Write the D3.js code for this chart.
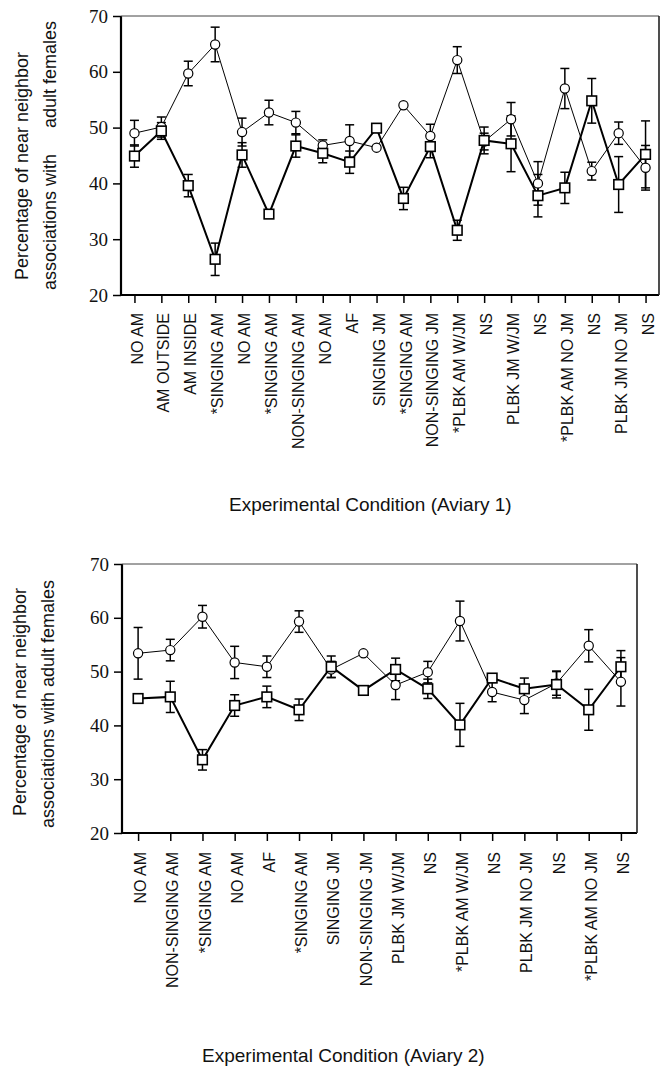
<!DOCTYPE html>
<meta charset="utf-8">
<html>
<style>
body { margin: 0; background: #fff; }
svg { display: block; }
.tick line { stroke: #000; stroke-width: 1.5px; }
.xcat text { font-family: "Liberation Sans", Arial, sans-serif; font-size: 16px; fill: #111; }
.lab { font-family: "Liberation Sans", Arial, sans-serif; font-size: 18px; fill: #111; }
.title { font-family: "Liberation Sans", Arial, sans-serif; font-size: 19px; fill: #111; }
</style>
<svg width="664" height="1067"></svg>
<script src="https://cdn.jsdelivr.net/npm/d3@7"></script>
<script>
// Aviary 1 conditions and values (circles = thin line, squares = thick line)
var cats1 = ["NO AM", "AM OUTSIDE", "AM INSIDE", "*SINGING AM", "NO AM", "*SINGING AM",
  "NON-SINGING AM", "NO AM", "AF", "SINGING JM", "*SINGING AM", "NON-SINGING JM",
  "*PLBK AM W/JM", "NS", "PLBK JM W/JM", "NS", "*PLBK AM NO JM", "NS", "PLBK JM NO JM", "NS"];
var circ1 = [49.0, 50.1, 59.7, 64.9, 49.2, 52.7, 50.9, 46.8, 47.6, 46.4, 54.0, 48.5, 62.1, 47.5, 51.5, 40.0, 57.0, 42.2, 49.0, 42.8];
var circ1Err = [2.3, 1.8, 2.2, 3.1, 2.5, 2.2, 2.0, 1.0, 2.9, 0, 0, 2.1, 2.4, 1.5, 3.0, 3.9, 3.6, 1.6, 2.0, 4.0];
var sq1 = [44.9, 49.4, 39.6, 26.4, 45.1, 34.5, 46.7, 45.4, 43.8, 49.9, 37.3, 46.6, 31.6, 47.7, 47.1, 37.8, 39.2, 54.8, 39.8, 45.2];
var sq1Err = [2.0, 1.5, 2.0, 2.9, 2.2, 0, 2.0, 1.7, 2.0, 0, 2.0, 2.0, 1.8, 2.4, 5.0, 3.8, 2.8, 4.0, 5.0, 6.0];

// Aviary 2
var cats2 = ["NO AM", "NON-SINGING AM", "*SINGING AM", "NO AM", "AF", "*SINGING AM", "SINGING JM",
  "NON-SINGING JM", "PLBK JM W/JM", "NS", "*PLBK AM W/JM", "NS", "PLBK JM NO JM", "NS",
  "*PLBK AM NO JM", "NS"];
var circ2 = [53.4, 54.0, 60.2, 51.7, 50.9, 59.3, 50.4, 53.4, 47.5, 49.9, 59.4, 46.2, 44.7, 47.8, 54.8, 48.1];
var circ2Err = [4.8, 2.0, 2.1, 3.0, 2.0, 2.0, 1.5, 0, 2.7, 2.0, 3.7, 1.8, 2.5, 2.2, 3.0, 4.5];
var sq2 = [45.0, 45.3, 33.6, 43.7, 45.3, 42.9, 50.9, 46.5, 50.4, 46.8, 40.1, 48.8, 46.8, 47.6, 42.9, 50.9];
var sq2Err = [0, 2.9, 1.9, 2.0, 2.0, 2.0, 2.0, 0, 2.1, 1.8, 4.0, 0, 2.0, 2.5, 3.8, 3.0];

var yTicks = [20, 30, 40, 50, 60, 70];

var svg = d3.select("svg");
svg.append("rect").attr("width", 664).attr("height", 1067).attr("fill", "#fff");

function panel(p) {
  var g = svg.append("g");
  var x = d3.scalePoint().domain(d3.range(p.cats.length)).range([p.left, p.right]).padding(0.5);
  var y = d3.scaleLinear().domain([20, 70]).range([p.bottom, p.top]);

  // y axis numbers (serif, like the original)
  g.append("g")
      .attr("transform", "translate(" + p.left + ",0)")
      .call(d3.axisLeft(y).tickValues(yTicks).tickSize(8).tickPadding(5))
    .call(function(a) { a.select(".domain").remove(); })
    .selectAll("text")
      .attr("font-family", "Liberation Serif")
      .attr("font-size", 19)
      .attr("fill", "#111");

  // x axis with rotated condition names
  g.append("g")
      .attr("class", "xcat")
      .attr("transform", "translate(0," + p.bottom + ")")
      .call(d3.axisBottom(x).tickSize(8).tickFormat(function(i) { return p.cats[i]; }))
    .call(function(a) { a.select(".domain").remove(); })
    .selectAll("text")
      .attr("font-family", null).attr("font-size", null)
      .attr("transform", "rotate(-90)")
      .attr("x", -p.labGap)
      .attr("y", 2)
      .attr("dy", "0.35em")
      .style("text-anchor", "end");

  // plot frame: heavy left/bottom, lighter top/right
  g.append("line").attr("x1", p.left).attr("x2", p.left).attr("y1", p.top).attr("y2", p.bottom + 1)
      .attr("stroke", "#000").attr("stroke-width", 2.2);
  g.append("line").attr("x1", p.left - 1).attr("x2", p.right).attr("y1", p.bottom).attr("y2", p.bottom)
      .attr("stroke", "#000").attr("stroke-width", 2.2);
  g.append("line").attr("x1", p.left).attr("x2", p.right).attr("y1", p.top).attr("y2", p.top)
      .attr("stroke", "#444").attr("stroke-width", 1);
  g.append("line").attr("x1", p.right).attr("x2", p.right).attr("y1", p.top).attr("y2", p.bottom)
      .attr("stroke", "#222").attr("stroke-width", 1.6);

  var line = d3.line().x(function(d, i) { return x(i); }).y(function(d) { return y(d); });

  g.append("path").datum(p.circ).attr("d", line)
      .attr("fill", "none").attr("stroke", "#000").attr("stroke-width", 1);
  g.append("path").datum(p.sq).attr("d", line)
      .attr("fill", "none").attr("stroke", "#000").attr("stroke-width", 2);

  // error bars, both series
  [[p.circ, p.circErr], [p.sq, p.sqErr]].forEach(function(s) {
    var eb = g.append("g").attr("stroke", "#000").attr("stroke-width", 1.5);
    s[0].forEach(function(v, i) {
      var e = s[1][i];
      if (!e) return;
      var cx = x(i);
      eb.append("line").attr("x1", cx).attr("x2", cx).attr("y1", y(v - e)).attr("y2", y(v + e));
      eb.append("line").attr("x1", cx - 4.5).attr("x2", cx + 4.5).attr("y1", y(v + e)).attr("y2", y(v + e));
      eb.append("line").attr("x1", cx - 4.5).attr("x2", cx + 4.5).attr("y1", y(v - e)).attr("y2", y(v - e));
    });
  });

  g.selectAll(".c").data(p.circ).enter().append("circle")
      .attr("cx", function(d, i) { return x(i); })
      .attr("cy", function(d) { return y(d); })
      .attr("r", 4.6)
      .attr("fill", "#fff").attr("stroke", "#000").attr("stroke-width", 1.2);
  g.selectAll(".s").data(p.sq).enter().append("rect")
      .attr("x", function(d, i) { return x(i) - 4.8; })
      .attr("y", function(d) { return y(d) - 4.8; })
      .attr("width", 9.6).attr("height", 9.6)
      .attr("fill", "#fff").attr("stroke", "#000").attr("stroke-width", 1.6);

  // y label (rotated lines)
  p.ylab.forEach(function(t) {
    svg.append("text").attr("class", "lab")
        .attr("transform", "translate(" + t[0] + "," + t[1] + ") rotate(-90)")
        .attr("text-anchor", t[2])
        .text(t[3]);
  });

  svg.append("text").attr("class", "title")
      .attr("x", p.titleX).attr("y", p.titleY)
      .text(p.title);
}

panel({
  cats: cats1, circ: circ1, circErr: circ1Err, sq: sq1, sqErr: sq1Err,
  left: 121, right: 659, top: 16, bottom: 295, labGap: 18,
  ylab: [[28, 166, "middle", "Percentage of near neighbor"],
         [56, 290, "start", "associations with"],
         [56, 128, "start", "adult females"]],
  title: "Experimental Condition (Aviary 1)", titleX: 229, titleY: 511
});

panel({
  cats: cats2, circ: circ2, circErr: circ2Err, sq: sq2, sqErr: sq2Err,
  left: 122, right: 637, top: 564, bottom: 833, labGap: 19,
  ylab: [[26, 702, "middle", "Percentage of near neighbor"],
         [54, 704, "middle", "associations with adult females"]],
  title: "Experimental Condition (Aviary 2)", titleX: 202, titleY: 1062
});
</script>
</html>
